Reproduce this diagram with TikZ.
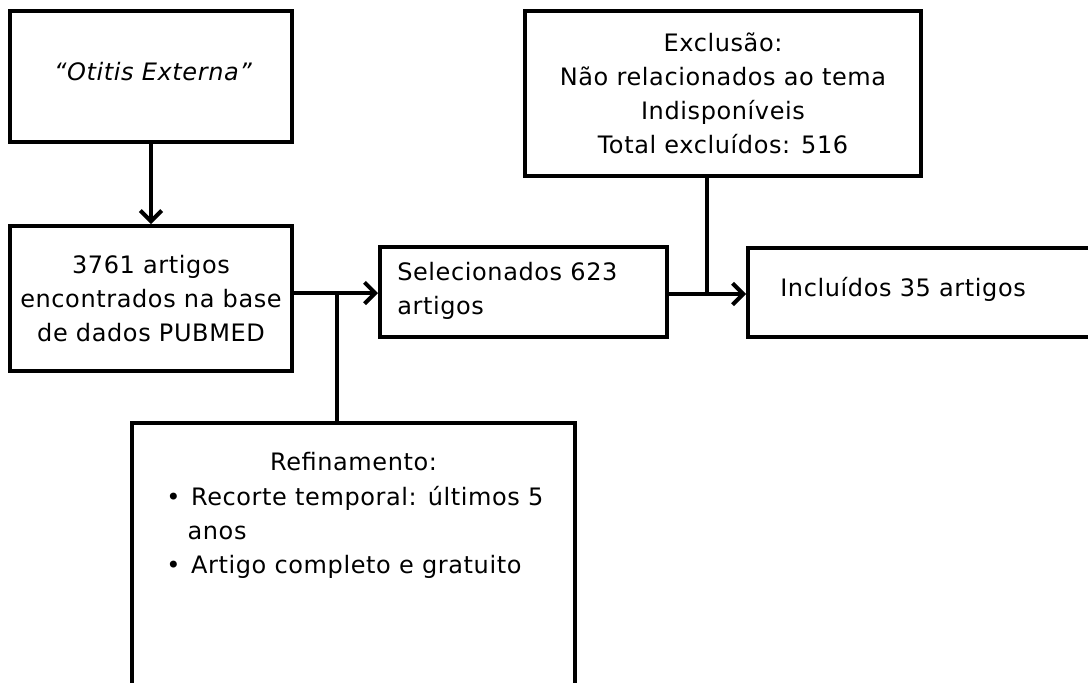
\documentclass[tikz,border=0pt]{standalone}
\usepackage{fontspec}
\setmainfont{DejaVu Sans}[LetterSpace=2.5]
\usetikzlibrary{arrows.meta}
\tikzset{
  box/.style={draw=black, line width=3pt, rectangle, inner sep=0pt, font=\fontsize{18}{25.5}\selectfont},
  txt/.style={inner sep=0pt, font=\fontsize{18}{25.5}\selectfont},
  conn/.style={line width=3pt, draw=black},
  arr/.style={conn, -{Straight Barb[length=8pt,width=16pt,line width=3pt]}}
}
\begin{document}
\begin{tikzpicture}[x=0.75pt,y=-0.75pt]
\clip (0,0) rectangle (1088,682);
\fill[white] (0,0) rectangle (1088,682);
% boxes
\node[box, minimum width=282*0.75pt, minimum height=131*0.75pt] (b1) at (151,76.5) {};
\node[txt] (t1) at (153,72) {\itshape “Otitis Externa”};
\node[box, minimum width=282*0.75pt, minimum height=145*0.75pt, align=center] (b2) at (151,298.5)
  {3761 artigos\\encontrados na base\\de dados PUBMED};
\node[box, minimum width=287*0.75pt, minimum height=90*0.75pt] (b3) at (523.5,292) {};
\node[txt, anchor=west, align=left] (t3) at (397,291) {Selecionados 623\\artigos};
\node[box, minimum width=352*0.75pt, minimum height=89*0.75pt] (b4) at (924,292.5) {};
\node[txt, anchor=west] (t4) at (780,289) {Incluídos 35 artigos};
\node[box, minimum width=396*0.75pt, minimum height=165*0.75pt, align=center] (ex) at (723,93.5)
  {Exclusão:\\Não relacionados ao tema\\Indisponíveis\\Total excluídos: 516};
\node[box, minimum width=443*0.75pt, minimum height=320*0.75pt] (rf) at (353.5,583) {};
\node[txt, anchor=north, align=center] (rt) at (353.5,452) {Refinamento:};
\node[txt, anchor=north west, align=left] (rl) at (166,486)
  {\textbullet\hspace{8pt}Recorte temporal: últimos 5\\\hspace{16pt}anos\\\textbullet\hspace{8pt}Artigo completo e gratuito};
% junctions
\coordinate (j1) at (337,293);
\coordinate (j2) at (707,294);
% connectors
\draw[arr] (b1.south) -- (b2.north);
\draw[arr] (b2.east |- j1) -- (b3.west |- j1);
\draw[conn] (j1) -- (j1 |- rf.north);
\draw[arr] (b3.east |- j2) -- (b4.west |- j2);
\draw[conn] (ex.south -| j2) -- (j2);
\end{tikzpicture}
\end{document}
